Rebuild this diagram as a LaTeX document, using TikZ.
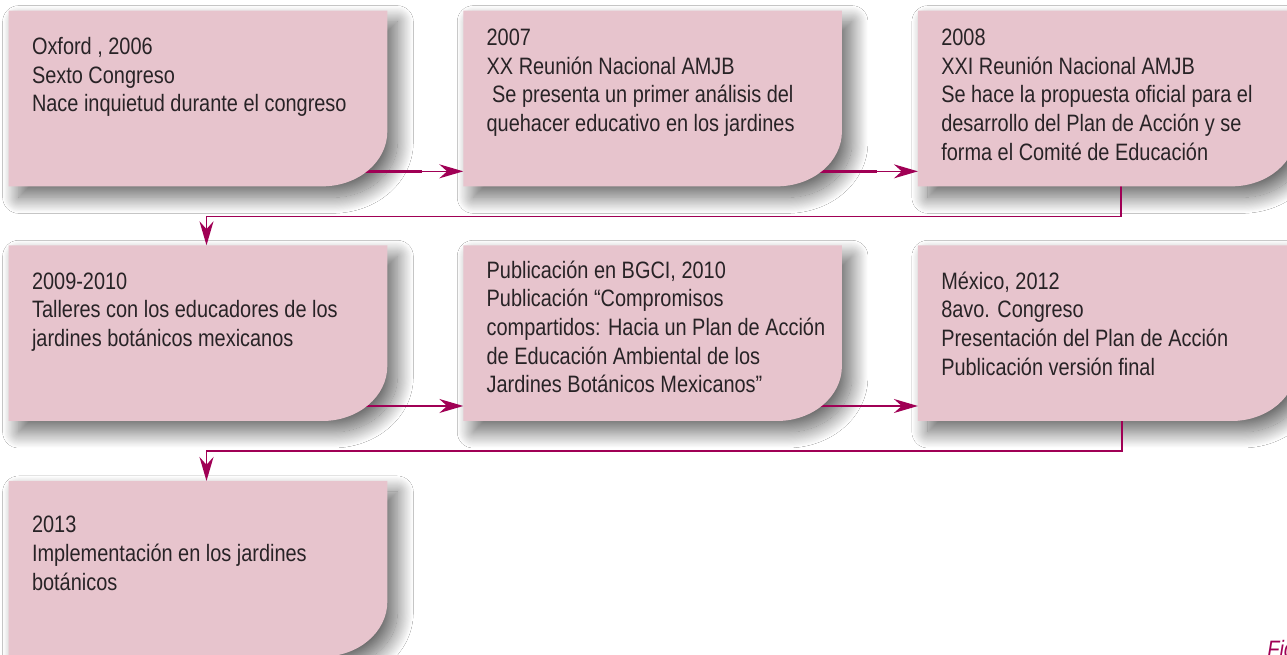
\documentclass[tikz,border=0pt]{standalone}
\usepackage{fontspec}
\setmainfont{Liberation Sans}[FakeStretch=0.84]
\usetikzlibrary{positioning, arrows.meta, shadows.blur}
\definecolor{rosa}{RGB}{231,196,205}
\definecolor{vino}{RGB}{160,0,85}
\definecolor{tinta}{RGB}{40,35,38}
\pgfdeclarelayer{sombra}
\pgfdeclarelayer{cables}
\pgfsetlayers{sombra,cables,main}
\newcommand\lineas[1]{\begin{tabular}[t]{@{}l@{}}#1\end{tabular}}

\begin{document}
\begin{tikzpicture}[x=0.02cm, y=-0.02cm, >={Stealth[length=0.48cm, width=0.28cm]},
	etapa/.style={rectangle, minimum width=7.56cm, minimum height=3.5cm, inner sep=0pt},
	forma/.style={insert path={(#1.north west) -- (#1.north east) -- ([yshift=1.1cm]#1.south east)
		.. controls ([yshift=0.49cm]#1.south east) and ([xshift=-0.58cm]#1.south east) .. ([xshift=-1.3cm]#1.south east)
		-- (#1.south west) -- cycle}},
	sombreado/.style={blur shadow={shadow xshift=0.2cm, shadow yshift=-0.22cm, shadow blur radius=0.32cm, shadow blur steps=30, shadow opacity=60}},
	texto/.style={inner sep=0pt, anchor=base west, text=tinta, font=\fontsize{13.5}{16.3}\selectfont},
	hilo/.style={draw=vino, line width=0.85pt, ->},
	hilogrueso/.style={draw=vino, line width=1.7pt},
	node distance=1.18cm and 1.52cm]

	\useasboundingbox (0,0) rectangle (1287,655);

	\node[etapa] (b1) at (198,98.5) {};
	\node[etapa, right=of b1] (b2) {};
	\node[etapa, right=of b2] (b3) {};
	\node[etapa, below=of b1] (b4) {};
	\node[etapa, right=of b4] (b5) {};
	\node[etapa, right=of b5] (b6) {};
	\node[etapa, below=1.2cm of b4] (b7) {};

	\begin{pgfonlayer}{sombra}
		\fill[white] (0,0) rectangle (1287,655);
		\foreach \n in {b1,b2,b3,b4,b5,b6,b7}
			\path[sombreado, forma=\n];
	\end{pgfonlayer}

	\begin{pgfonlayer}{cables}
		\foreach \desde/\hacia in {b1/b2, b2/b3, b4/b5, b5/b6} {
			\draw[hilogrueso] ([yshift=0.3cm]\desde.south) -- ([xshift=-0.82cm, yshift=0.3cm]\hacia.south west);
			\draw[hilo] ([yshift=0.3cm]\desde.south) -- ([yshift=0.3cm]\hacia.south west);
		}
		\draw[hilo] ([xshift=0.28cm]b3.south) -- ++(0,30) -| ([xshift=0.17cm]b4.north);
		\draw[hilo] ([xshift=0.3cm]b6.south) -- ++(0,30) -| ([xshift=0.17cm]b7.north);
	\end{pgfonlayer}

	\foreach \n in {b1,b2,b3,b4,b5,b6,b7}
		\fill[rosa, forma=\n];

	\node[texto] (t1) at ([shift={(0.46cm,-0.88cm)}]b1.north west) {\lineas{Oxford , 2006\\Sexto Congreso\\Nace inquietud durante el congreso}};
	\node[texto] (t2) at ([shift={(0.46cm,-0.70cm)}]b2.north west) {\lineas{2007\\XX Reunión Nacional AMJB\\~Se presenta un primer análisis del\\quehacer educativo en los jardines}};
	\node[texto] (t3) at ([shift={(0.46cm,-0.70cm)}]b3.north west) {\lineas{2008\\XXI Reunión Nacional AMJB\\Se hace la propuesta oficial para el\\desarrollo del Plan de Acción y se\\forma el Comité de Educación}};
	\node[texto] (t4) at ([shift={(0.46cm,-0.88cm)}]b4.north west) {\lineas{2009-2010\\Talleres con los educadores de los\\jardines botánicos mexicanos}};
	\node[texto] (t5) at ([shift={(0.46cm,-0.66cm)}]b5.north west) {\lineas{Publicación en BGCI, 2010\\Publicación “Compromisos\\compartidos: Hacia un Plan de Acción\\de Educación Ambiental de los\\Jardines Botánicos Mexicanos”}};
	\node[texto] (t6) at ([shift={(0.46cm,-0.88cm)}]b6.north west) {\lineas{México, 2012\\8avo. Congreso\\Presentación del Plan de Acción\\Publicación versión final}};
	\node[texto] (t7) at ([shift={(0.46cm,-1.04cm)}]b7.north west) {\lineas{2013\\Implementación en los jardines\\botánicos}};

	\node[anchor=base west, inner sep=0pt, text=vino, font=\fontsize{13.5}{16}\selectfont\itshape] (fig) at (1267,657) {Fig};
\end{tikzpicture}
\end{document}
